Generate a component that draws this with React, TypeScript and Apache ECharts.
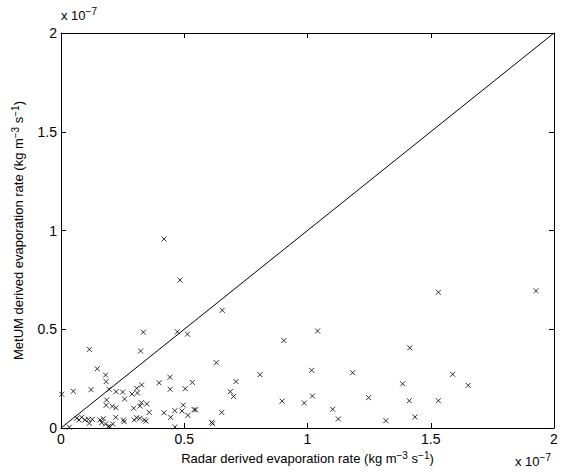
import React, { useEffect, useRef } from "react";
import * as echarts from "echarts";

// Values in units of 1e-7 kg m^-3 s^-1
const radarX: number[] = [
  0.418, 0.483, 0.654, 0.334, 0.472, 0.513, 1.041, 0.904, 1.415, 1.531,
  1.927, 1.017, 1.183, 1.386, 1.589, 1.652, 0.897, 0.987, 1.02, 1.248,
  1.413, 1.531, 1.102, 1.125, 1.318, 1.436, 0.63, 0.807, 0.533, 0.504,
  0.71, 0.687, 0.7, 0.496, 0.491, 0.515, 0.54, 0.546, 0.652, 0.611,
  0.615, 0.115, 0.323, 0.147, 0.181, 0.183, 0.327, 0.307, 0.398, 0.442,
  0.443, 0.003, 0.05, 0.122, 0.195, 0.223, 0.25, 0.288, 0.31, 0.258,
  0.185, 0.326, 0.348, 0.183, 0.208, 0.223, 0.295, 0.32, 0.358, 0.418,
  0.445, 0.462, 0.064, 0.073, 0.084, 0.097, 0.111, 0.127, 0.115, 0.158,
  0.172, 0.165, 0.181, 0.192, 0.199, 0.21, 0.222, 0.253, 0.256, 0.297,
  0.307, 0.32, 0.338, 0.345, 0.034, 0.462,
];
const metumY: number[] = [
  0.957, 0.749, 0.596, 0.485, 0.487, 0.475, 0.491, 0.443, 0.406, 0.687,
  0.695, 0.292, 0.28, 0.224, 0.272, 0.216, 0.136, 0.127, 0.162, 0.154,
  0.138, 0.138, 0.095, 0.046, 0.037, 0.056, 0.331, 0.27, 0.231, 0.199,
  0.235, 0.184, 0.16, 0.116, 0.086, 0.064, 0.093, 0.092, 0.079, 0.029,
  0.022, 0.398, 0.39, 0.3, 0.268, 0.235, 0.218, 0.201, 0.229, 0.257,
  0.196, 0.171, 0.186, 0.194, 0.196, 0.184, 0.182, 0.172, 0.177, 0.147,
  0.142, 0.128, 0.122, 0.115, 0.11, 0.103, 0.1, 0.111, 0.079, 0.077,
  0.054, 0.088, 0.049, 0.041, 0.054, 0.041, 0.044, 0.044, 0.024, 0.041,
  0.047, 0.027, 0.02, 0.007, 0.007, 0.02, 0.054, 0.041, 0.032, 0.041,
  0.052, 0.049, 0.041, 0.035, 0.004, 0.005,
];
const oneToOne: number[][] = [
  [0, 0],
  [2, 2],
];
const axisMin = 0;
const axisMax = 2;
const tickInterval = 0.5;

const FONT = "Liberation Sans, Arial, Helvetica, sans-serif";

export default function App() {
  const ref = useRef<HTMLDivElement>(null);
  useEffect(() => {
    if (!ref.current) return;
    const chart = echarts.init(ref.current, undefined, { renderer: "svg" });
    const points = radarX.map((x, i) => [x, metumY[i]]);
    const sup = { fontSize: 10, verticalAlign: "top" as const, lineHeight: 16, fontFamily: FONT, color: "#000" };
    const baseAxis = {
      type: "value" as const,
      min: axisMin,
      max: axisMax,
      interval: tickInterval,
      splitLine: { show: false },
      axisLine: { show: true, onZero: false, lineStyle: { color: "#000", width: 1 } },
      axisTick: { show: true, inside: true, length: 5, lineStyle: { color: "#000" } },
    };
    chart.setOption({
      animation: false,
      backgroundColor: "#fff",
      grid: { left: 61, right: 10, top: 33, bottom: 45, containLabel: false },
      xAxis: [
        {
          ...baseAxis,
          position: "bottom",
          axisLabel: { color: "#000", fontSize: 14, fontFamily: FONT, margin: 4, formatter: (v: number) => String(v) },
          name: "Radar derived evaporation rate (kg m{sup|−3} s{sup|−1})",
          nameLocation: "middle",
          nameGap: 18,
          nameTextStyle: { color: "#000", fontSize: 13, fontFamily: FONT, lineHeight: 16, rich: { sup } },
        },
        { ...baseAxis, position: "top", axisLabel: { show: false } },
      ],
      yAxis: [
        {
          ...baseAxis,
          position: "left",
          axisLabel: { color: "#000", fontSize: 14, fontFamily: FONT, margin: 4, formatter: (v: number) => String(v) },
          name: "MetUM derived evaporation rate (kg m{sup|−3} s{sup|−1})",
          nameLocation: "middle",
          nameGap: 32,
          nameTextStyle: { color: "#000", fontSize: 13, fontFamily: FONT, lineHeight: 16, rich: { sup } },
        },
        { ...baseAxis, position: "right", axisLabel: { show: false } },
      ],
      graphic: [
        {
          type: "text",
          left: 61,
          top: 6,
          style: {
            text: "x 10{s|−7}",
            font: `13px ${FONT}`,
            fill: "#000",
            rich: { s: { fontSize: 10, verticalAlign: "top", lineHeight: 18, fontFamily: FONT } },
          },
        },
        {
          type: "text",
          left: 515,
          top: 452,
          style: {
            text: "x 10{s|−7}",
            font: `13px ${FONT}`,
            fill: "#000",
            rich: { s: { fontSize: 10, verticalAlign: "top", lineHeight: 18, fontFamily: FONT } },
          },
        },
      ],
      series: [
        {
          type: "line",
          data: oneToOne,
          showSymbol: false,
          symbol: "none",
          lineStyle: { color: "#000", width: 1 },
          silent: true,
        },
        {
          type: "scatter",
          data: points,
          symbol: "path://M0,0L10,10M10,0L0,10",
          symbolSize: 5,
          itemStyle: { color: "rgba(0,0,0,0)", borderColor: "#000", borderWidth: 1 },
        },
      ],
    });
    return () => chart.dispose();
  }, []);
  return <div ref={ref} style={{ width: 564, height: 473, position: "absolute", left: 0, top: 0 }} />;
}
